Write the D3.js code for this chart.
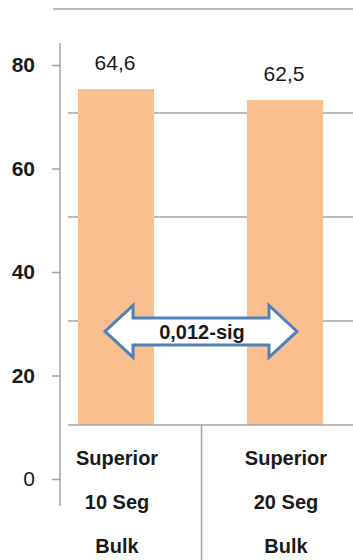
<!DOCTYPE html>
<html>
<head>
<meta charset="utf-8">
<script src="https://cdn.jsdelivr.net/npm/d3@7/dist/d3.min.js"></script>
<style>
  html, body { margin: 0; padding: 0; background: #fff; }
  svg { display: block; font-family: "Liberation Sans", Arial, sans-serif; }
</style>
</head>
<body>
<svg id="chart" width="353" height="560"></svg>
<script>
// Categories (three-line labels) and mean values
const categories = ["Superior 10 Seg Bulk", "Superior 20 Seg Bulk"];
const categoryLines = [["Superior", "10 Seg", "Bulk"], ["Superior", "20 Seg", "Bulk"]];
const values = [64.6, 62.5];
// Value axis tick labels and gridline values
const axisTicks = [0, 20, 40, 60, 80];
const gridValues = [20, 40, 60, 80];
// Significance annotation between the two bars
const sigLabel = "0,012-sig";
const sigLevel = 18;

const svg = d3.select("#chart");
const fmt = d3.formatLocale({ decimal: ",", thousands: ".", grouping: [3], currency: ["", ""] }).format(".1f");

// Bar scale: baseline at the category axis
const y = d3.scaleLinear().domain([0, 80]).range([425, 9]);
// Tick-label scale for the value axis on the left
const yAxisScale = d3.scaleLinear().domain([0, 80]).range([479, 65]);
const x = d3.scaleBand().domain(categories).range([78, 323]).paddingInner(0.55).paddingOuter(0);

const gridColor = "#a3a3a3";

// Gridlines
svg.append("g").selectAll("line").data(gridValues).join("line")
  .attr("x1", d => d === 80 ? 53 : 68).attr("x2", 353)
  .attr("y1", d => y(d)).attr("y2", d => y(d))
  .attr("stroke", gridColor).attr("stroke-width", 1.5);

// Bars
svg.append("g").selectAll("rect").data(values).join("rect")
  .attr("x", (d, i) => x(categories[i]))
  .attr("width", x.bandwidth())
  .attr("y", d => y(d))
  .attr("height", d => y(0) - y(d))
  .attr("fill", "#F9BF8F");

// Value labels
svg.append("g").selectAll("text").data(values).join("text")
  .attr("x", (d, i) => x(categories[i]) + x.bandwidth() / 2 - 1)
  .attr("y", d => y(d) - 19)
  .attr("text-anchor", "middle")
  .attr("font-size", 21)
  .attr("fill", "#1a1a1a")
  .text(d => fmt(d));

// Value axis
const yAxis = d3.axisLeft(yAxisScale).tickValues(axisTicks).tickSize(8).tickPadding(17).tickFormat(d3.format("d"));
const gy = svg.append("g").attr("transform", "translate(60,0)").call(yAxis);
gy.select(".domain").remove();
gy.selectAll(".tick line").attr("stroke", gridColor).attr("stroke-width", 1.5);
gy.selectAll(".tick text")
  .attr("font-size", 21)
  .attr("font-family", "'Liberation Sans', Arial, sans-serif")
  .attr("font-weight", d => d === 0 ? "normal" : "bold")
  .attr("fill", "#1a1a1a");
svg.append("line").attr("x1", 60).attr("x2", 60).attr("y1", 43).attr("y2", 506)
  .attr("stroke", gridColor).attr("stroke-width", 1.5);

// Category axis and divider
svg.append("line").attr("x1", 68).attr("x2", 353).attr("y1", y(0)).attr("y2", y(0))
  .attr("stroke", gridColor).attr("stroke-width", 1.5);
const mid = (x(categories[0]) + x(categories[1]) + x.bandwidth()) / 2 + 1;
svg.append("line").attr("x1", mid).attr("x2", mid).attr("y1", y(0)).attr("y2", 560)
  .attr("stroke", gridColor).attr("stroke-width", 1.5);

// Category labels
const lineBase = [465, 509, 553];
categoryLines.forEach((lines, i) => {
  const cx = x(categories[i]) + x.bandwidth() / 2 + 1;
  svg.append("g").selectAll("text").data(lines).join("text")
    .attr("x", cx).attr("y", (d, j) => lineBase[j])
    .attr("text-anchor", "middle")
    .attr("font-size", 20).attr("font-weight", "bold")
    .attr("fill", "#1a1a1a")
    .text(d => d);
});

// Double-headed significance arrow
const cy = y(sigLevel);
const xl = x(categories[0]) + x.bandwidth() / 2 - 11;
const xr = x(categories[1]) + x.bandwidth() / 2 + 12;
const head = 28, hh = 26, sh = 13.5;
const p = d3.path();
p.moveTo(xl, cy);
p.lineTo(xl + head, cy - hh);
p.lineTo(xl + head, cy - sh);
p.lineTo(xr - head, cy - sh);
p.lineTo(xr - head, cy - hh);
p.lineTo(xr, cy);
p.lineTo(xr - head, cy + hh);
p.lineTo(xr - head, cy + sh);
p.lineTo(xl + head, cy + sh);
p.lineTo(xl + head, cy + hh);
p.closePath();
svg.append("path").attr("d", p.toString())
  .attr("fill", "#fff").attr("stroke", "#4F81BD").attr("stroke-width", 3)
  .attr("stroke-linejoin", "miter");
svg.append("text")
  .attr("x", (xl + xr) / 2 + 1).attr("y", cy + 8)
  .attr("text-anchor", "middle")
  .attr("font-size", 20).attr("font-weight", "bold")
  .attr("fill", "#1a1a1a")
  .text(sigLabel);
</script>
</body>
</html>
